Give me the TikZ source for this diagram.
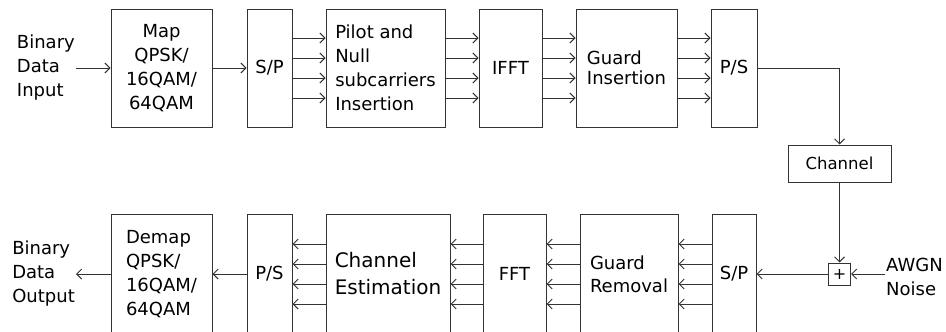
\documentclass[tikz,border=0pt]{standalone}
\usepackage{fontspec}
\setmainfont{DejaVu Sans}
\usetikzlibrary{arrows.meta}
\definecolor{linegray}{HTML}{333333}

\tikzset{
  blk/.style={draw=linegray, line width=1pt, inner sep=0pt, align=center,
              font=\fontsize{18}{24}\selectfont},
  toprow/.style={blk, minimum height=118pt},
  botrow/.style={blk, minimum height=120pt},
  lbl/.style={inner sep=1pt, align=left, font=\fontsize{18}{24}\selectfont},
  sig/.style={draw=linegray, line width=1pt, -{Straight Barb[length=5pt,width=10pt]}},
}

\begin{document}
\begin{tikzpicture}[x=1pt, y=-1pt]
  \useasboundingbox (0,0) rectangle (946,332);

  % transmitter
  \node[lbl, anchor=east] (bin) at (76,68) {Binary\\Data\\Input};
  \node[toprow, minimum width=101pt] (map) at (161.5,68) {Map\\QPSK/\\16QAM/\\64QAM};
  \node[toprow, minimum width=45pt] (sp1) at (269.5,68) {S/P};
  \node[toprow, minimum width=119pt, align=left] (pilot) at (385.5,68) {Pilot and\\Null\\subcarriers\\Insertion};
  \node[toprow, minimum width=63pt] (ifft) at (510.5,68) {IFFT};
  \node[toprow, minimum width=101pt, align=left, font=\fontsize{18}{20}\selectfont] (guard) at (626.5,68) {Guard\\Insertion};
  \node[toprow, minimum width=46pt] (ps1) at (734,68) {P/S};

  % channel
  \node[blk, minimum width=103pt, minimum height=37pt, font=\fontsize{16.5}{20}\selectfont] (chan) at (839.5,163.5) {Channel};
  \node[blk, minimum size=22pt, font=\fontsize{16}{16}\selectfont] (plus) at (839.5,274) {+};
  \node[lbl, anchor=west] (noise) at (885,277) {AWGN\\Noise};

  % receiver
  \node[botrow, minimum width=44pt] (sp2) at (734,274) {S/P};
  \node[botrow, minimum width=98pt, align=left, font=\fontsize{18}{23}\selectfont] (grem) at (629,274) {Guard\\Removal};
  \node[botrow, minimum width=63pt] (fft) at (514.5,274) {FFT};
  \node[botrow, minimum width=124pt, align=left, font=\fontsize{20}{27}\selectfont] (chest) at (388,274) {Channel\\Estimation};
  \node[botrow, minimum width=45pt] (ps2) at (269.5,274) {P/S};
  \node[botrow, minimum width=101pt, align=left] (demap) at (161.5,274) {Demap\\QPSK/\\16QAM/\\64QAM};
  \node[lbl, anchor=east] (bout) at (76,274) {Binary\\Data\\Output};

  % serial links
  \draw[sig] (bin) -- (map);
  \draw[sig] (map) -- (sp1);
  \draw[sig] (ps1.east) -| (chan.north);
  \draw[sig] (chan) -- (plus);
  \draw[sig] (noise.west |- plus) -- (plus);
  \draw[sig] (plus) -- (sp2);
  \draw[sig] (demap) -- (bout);
  \draw[sig] (ps2) -- (demap);

  % parallel links
  \foreach \a/\b in {sp1/pilot, pilot/ifft, ifft/guard, guard/ps1}
    \foreach \d in {-30,-10,10,30}
      \draw[sig] ([yshift=\d pt]\a.east) -- ([yshift=\d pt]\b.west);
  \foreach \a/\b in {sp2/grem, grem/fft, fft/chest, chest/ps2}
    \foreach \d in {-30,-10,10,30}
      \draw[sig] ([yshift=\d pt]\a.west) -- ([yshift=\d pt]\b.east);
\end{tikzpicture}
\end{document}
